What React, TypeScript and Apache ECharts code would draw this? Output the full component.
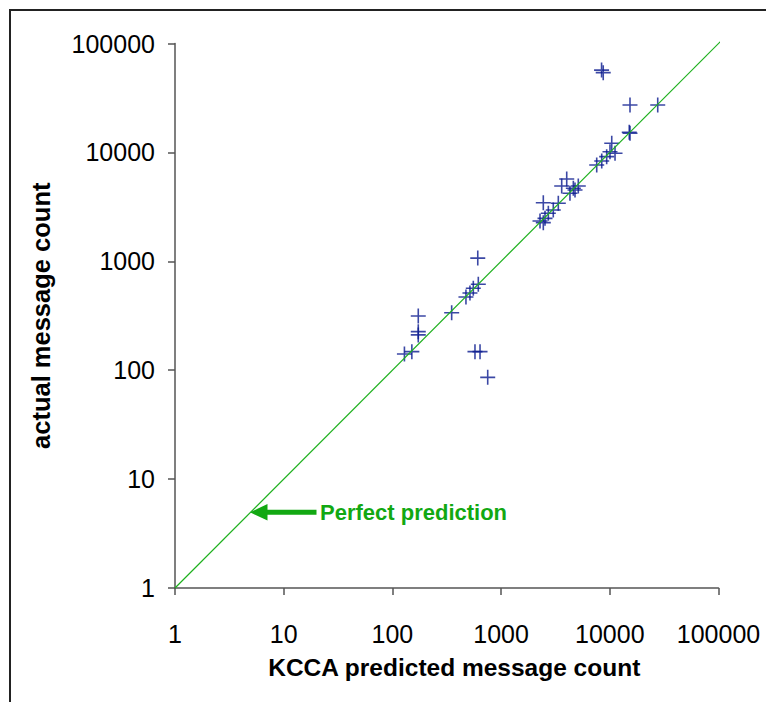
import React, { useEffect, useRef } from "react";
import * as echarts from "echarts";

const predicted = [
  129, 151, 173, 173, 173, 351, 475, 517, 555, 617, 610, 575, 640, 753,
  2280, 2445, 2535, 2720, 3020, 2445, 3360, 3610, 4015, 4300, 4620, 4785, 5130,
  7580, 8430, 9360, 10040, 11170, 10420, 15340, 15100, 15340, 27600, 8400, 8700,
];
const actual = [
  141, 148, 315, 226, 211, 337, 470, 512, 565, 615, 1070, 148, 148, 86,
  2345, 2263, 2480, 2760, 2960, 3450, 3410, 4910, 5700, 4210, 4680, 4515, 4910,
  7660, 8340, 9140, 10150, 9810, 12130, 14970, 15300, 27230, 27230, 57000, 54000,
];
const perfectLine = [1, 115000];
const xTitle = "KCCA predicted message count";
const yTitle = "actual message count";
const annotation = "Perfect prediction";

export default function App() {
  const ref = useRef<HTMLDivElement>(null);
  useEffect(() => {
    if (!ref.current) return;
    const chart = echarts.init(ref.current, undefined, { renderer: "svg" });
    const font = "'Liberation Sans', Arial, Helvetica, sans-serif";
    const axisCommon = {
      type: "log" as const,
      logBase: 10,
      min: 1,
      max: 100000,
      splitLine: { show: false },
      minorTick: { show: false },
      axisLine: { show: true, lineStyle: { color: "#555", width: 1.5 } },
      axisTick: { show: true, inside: false, length: 7, lineStyle: { color: "#555", width: 1.5 } },
      axisLabel: {
        color: "#000",
        fontSize: 25,
        fontFamily: font,
        formatter: (v: number) => String(Math.round(v)),
      },
      nameLocation: "middle" as const,
    };
    chart.setOption({
      animation: false,
      backgroundColor: "#fff",
      grid: { left: 175, right: 47.5, top: 43.5, bottom: 114, containLabel: false },
      xAxis: {
        ...axisCommon,
        name: xTitle,
        nameGap: 67,
        nameTextStyle: {
          color: "#000",
          fontSize: 24.5,
          fontWeight: "bold",
          fontFamily: font,
          padding: [0, 0, 0, 15],
        },
        axisLabel: { ...axisCommon.axisLabel, margin: 33 },
      },
      yAxis: {
        ...axisCommon,
        name: yTitle,
        nameGap: 121,
        nameRotate: 90,
        nameTextStyle: { color: "#000", fontSize: 25.5, fontWeight: "bold", fontFamily: font },
        axisLabel: { ...axisCommon.axisLabel, margin: 20 },
      },
      series: [
        {
          type: "line",
          data: perfectLine.map((v) => [v, v]),
          showSymbol: false,
          symbol: "none",
          clip: false,
          lineStyle: { color: "#1db01d", width: 1.2 },
          silent: true,
        },
        {
          type: "scatter",
          data: predicted.map((x, i) => [x, actual[i]]),
          symbol: "path://M7,0L7,14M0,7L14,7",
          symbolSize: 15,
          itemStyle: { color: "none", borderColor: "#0a1a8f", borderWidth: 1.6 },
        },
      ],
      graphic: [
        { type: "line", shape: { x1: 9, y1: 10, x2: 766, y2: 10 }, style: { stroke: "#222", lineWidth: 2 } },
        { type: "line", shape: { x1: 10, y1: 9, x2: 10, y2: 702 }, style: { stroke: "#222", lineWidth: 2 } },
        {
          type: "polygon",
          shape: {
            points: [
              [250, 512.3],
              [267.5, 504],
              [267.5, 509.8],
              [316.5, 509.8],
              [316.5, 514.8],
              [267.5, 514.8],
              [267.5, 520.6],
            ],
          },
          style: { fill: "#12a812" },
        },
        {
          type: "text",
          x: 320,
          y: 512.5,
          style: {
            text: annotation,
            fill: "#12a812",
            fontSize: 22,
            fontWeight: "bold",
            fontFamily: font,
            verticalAlign: "middle",
            align: "left",
          },
        },
      ],
    });
    return () => chart.dispose();
  }, []);
  return <div ref={ref} style={{ width: 766, height: 702, position: "absolute", left: 0, top: 0 }} />;
}
